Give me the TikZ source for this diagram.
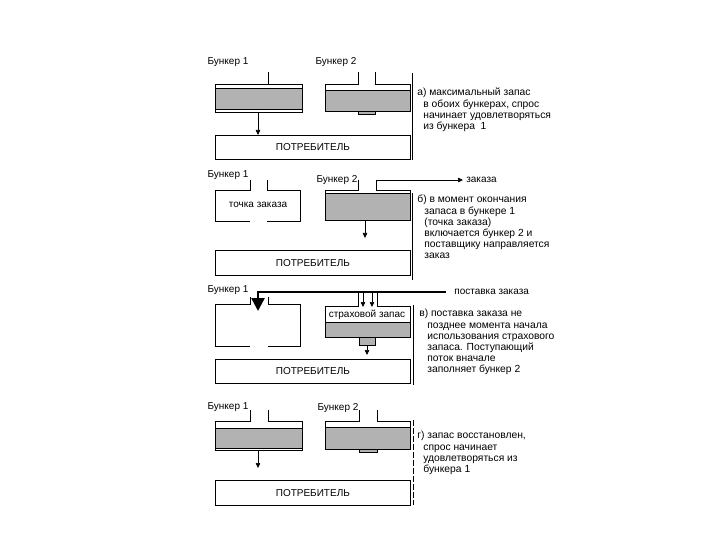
\documentclass[tikz,border=0pt]{standalone}
\usepackage{fontspec}
\setmainfont{Liberation Sans}
\usetikzlibrary{arrows.meta}
\begin{document}
\begin{tikzpicture}[x=1pt,y=-1pt,line width=0.7pt,
  lbl/.style={font=\fontsize{10}{11}\selectfont,inner sep=0pt},
  desc/.style={font=\fontsize{10.3}{11.2}\selectfont,align=left,anchor=north west,inner sep=0pt},
  cons/.style={draw,minimum width=195pt,minimum height=24pt,anchor=north west,inner sep=0pt,font=\fontsize{10}{11}\selectfont},
  stock/.style={fill=black!30,draw=black,line width=0.9pt},
  wall/.style={line width=0.7pt},
  flow/.style={line width=0.7pt,-{Triangle[length=5pt,width=4.5pt]}},
  sep/.style={line width=0.8pt},
]
\useasboundingbox (0,0) rectangle (720,540);

% ================= panel a =================
\node[lbl] (la1) at (228,62) {Бункер 1};
\node[lbl] (la2) at (336,62) {Бункер 2};
% bunker 1
\fill[stock] (215,88) rectangle (302,109);
\draw[wall] (215,84) rectangle (302,112);
\draw[wall] (268,72) -- (268,84);
\coordinate (a1out) at (258,112);
% bunker 2
\fill[stock] (325,90) rectangle (410,111);
\draw[wall] (358,72) -- (358,84) -- (325,84) -- (325,111) -- (410,111) -- (410,84) -- (375,84) -- (375,72);
\draw[stock] (358,111) rectangle (375,114);
\node[cons] (ca) at (215,135) {ПОТРЕБИТЕЛЬ};
\draw[flow] (a1out) -- (a1out |- ca.north);
\draw[sep] (412,73) -- (412,160);
\node[desc] (ta) at (417,88) {а) максимальный запас\\\hspace*{6pt}в обоих бункерах, спрос\\\hspace*{6pt}начинает удовлетворяться\\\hspace*{6pt}из бункера~~1};

% ================= panel b =================
\node[lbl] (lb1) at (228,175) {Бункер 1};
\node[lbl] (lb2) at (337,180) {Бункер 2};
% bunker 1 (empty)
\draw[wall] (250,180) -- (250,190) -- (215,190) -- (215,221) -- (250,221);
\draw[wall] (267,180) -- (267,190) -- (300,190) -- (300,221) -- (267,221);
\node[lbl] (tz) at (258,205) {точка заказа};
% bunker 2
\fill[stock] (325,193) rectangle (410,220);
\draw[wall] (358,180) -- (358,190) -- (325,190) -- (325,220) -- (410,220) -- (410,190) -- (376,190);
\coordinate (b2out) at (365,220);
\coordinate (ordstart) at (376,190);
\node[lbl,anchor=west] (zk) at (466,179.5) {заказа};
\draw[flow] (ordstart) -- (376,180) -- ([xshift=-3pt]zk.west |- 0,180);
\node[cons,minimum height=25pt] (cb) at (215,250) {ПОТРЕБИТЕЛЬ};
\draw[flow] (b2out) -- (365,238);
\draw[sep] (412,193) -- (412,280);
\node[desc] (tb) at (417,195) {б) в момент окончания\\\hspace*{7pt}запаса в бункере 1\\\hspace*{7pt}(точка заказа)\\\hspace*{7pt}включается бункер 2 и\\\hspace*{7pt}поставщику направляется\\\hspace*{7pt}заказ};

% ================= panel c =================
\node[lbl] (lc1) at (228,290) {Бункер 1};
\node[lbl,anchor=west] (pz) at (454,292) {поставка заказа};
\coordinate (c1in) at (258,311);
\draw[line width=2.6pt,-{Triangle[length=13pt,width=13pt]}] ([xshift=-8pt]pz.west) -- (258,292) -- (c1in);
% bunker 1 (empty)
\draw[wall] (250,297) -- (250,304) -- (215,304) -- (215,346) -- (250,346);
\draw[wall] (268,297) -- (268,304) -- (300,304) -- (300,346) -- (268,346);
% bunker 2
\fill[stock] (325,322) rectangle (410,337);
\draw[wall] (358,293) -- (358,306) -- (325,306) -- (325,337) -- (410,337) -- (410,306) -- (377,306) -- (377,293);
\node[lbl] (sz) at (367,315) {страховой запас};
\draw[flow] (363,293) -- (363,307);
\draw[flow] (372,293) -- (372,307);
\draw[stock] (359,337) rectangle (375,345);
\coordinate (c2out) at (367,345);
\node[cons] (cc) at (215,359) {ПОТРЕБИТЕЛЬ};
\draw[flow] (c2out) -- (367,355);
\draw[sep] (413,305) -- (413,385);
\node[desc] (tc) at (419,309) {в) поставка заказа не\\\hspace*{8pt}позднее момента начала\\\hspace*{8pt}использования страхового\\\hspace*{8pt}запаса. Поступающий\\\hspace*{8pt}поток вначале\\\hspace*{8pt}заполняет бункер 2};

% ================= panel d =================
\node[lbl] (ld1) at (228,407) {Бункер 1};
\node[lbl] (ld2) at (338,408) {Бункер 2};
% bunker 1
\fill[stock] (215,428) rectangle (302,448);
\draw[wall] (250,410) -- (250,421) -- (215,421) -- (215,450) -- (302,450) -- (302,421) -- (268,421) -- (268,410);
\coordinate (d1out) at (258,451);
% bunker 2
\fill[stock] (325,427) rectangle (410,449);
\draw[wall] (359,410) -- (359,421) -- (325,421) -- (325,449) -- (410,449) -- (410,421) -- (377,421) -- (377,410);
\draw[stock] (359,449) rectangle (377,452);
\node[cons,minimum height=25pt] (cd) at (215,480) {ПОТРЕБИТЕЛЬ};
\draw[flow] (d1out) -- (258,468);
\draw[sep,dash pattern=on 6pt off 2pt] (413,420) -- (413,505);
\node[desc] (td) at (417,431) {г) запас восстановлен,\\\hspace*{6pt}спрос начинает\\\hspace*{6pt}удовлетворяться из\\\hspace*{6pt}бункера 1};
\end{tikzpicture}
\end{document}
